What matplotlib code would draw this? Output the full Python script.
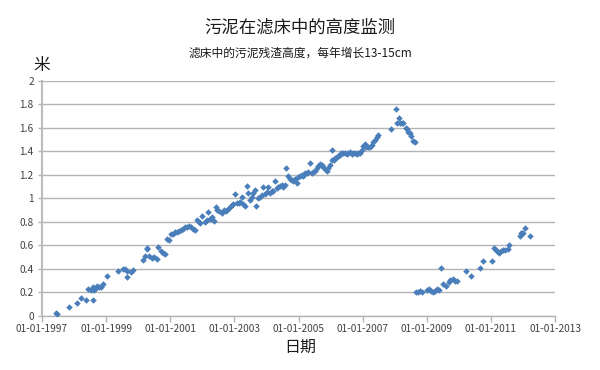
import matplotlib
matplotlib.use("Agg")
import matplotlib.pyplot as plt

plt.rcParams['font.family'] = ['Noto Sans CJK SC', 'DejaVu Sans']

# 日期（小数年）和污泥高度（米）
years = [
    1997.44, 1997.48, 1997.83, 1998.08, 1998.21, 1998.37, 1998.44, 1998.52, 1998.58, 1998.60,
    1998.60, 1998.63, 1998.67, 1998.72, 1998.79, 1998.84, 1998.91, 1999.04, 1999.38, 1999.54,
    1999.60, 1999.64, 1999.66, 1999.78, 1999.85, 2000.14, 2000.21, 2000.26, 2000.28, 2000.35,
    2000.42, 2000.49, 2000.58, 2000.63, 2000.70, 2000.76, 2000.84, 2000.91, 2000.95, 2001.01,
    2001.08, 2001.14, 2001.20, 2001.28, 2001.34, 2001.41, 2001.47, 2001.53, 2001.59, 2001.66,
    2001.72, 2001.77, 2001.82, 2001.89, 2001.93, 2001.99, 2002.08, 2002.14, 2002.19, 2002.24,
    2002.29, 2002.36, 2002.43, 2002.47, 2002.53, 2002.60, 2002.68, 2002.74, 2002.81, 2002.87,
    2002.92, 2002.97, 2003.02, 2003.07, 2003.13, 2003.17, 2003.23, 2003.28, 2003.33, 2003.38,
    2003.43, 2003.49, 2003.54, 2003.59, 2003.64, 2003.69, 2003.75, 2003.80, 2003.85, 2003.90,
    2003.95, 2004.01, 2004.06, 2004.11, 2004.16, 2004.21, 2004.27, 2004.32, 2004.37, 2004.42,
    2004.47, 2004.52, 2004.58, 2004.61, 2004.68, 2004.73, 2004.79, 2004.84, 2004.89, 2004.94,
    2004.99, 2005.04, 2005.10, 2005.15, 2005.20, 2005.25, 2005.30, 2005.36, 2005.41, 2005.46,
    2005.51, 2005.57, 2005.62, 2005.67, 2005.72, 2005.77, 2005.82, 2005.88, 2005.93, 2005.98,
    2006.03, 2006.06, 2006.10, 2006.14, 2006.19, 2006.24, 2006.29, 2006.34, 2006.40, 2006.45,
    2006.50, 2006.55, 2006.60, 2006.66, 2006.71, 2006.76, 2006.81, 2006.86, 2006.92, 2006.97,
    2007.02, 2007.07, 2007.12, 2007.17, 2007.23, 2007.28, 2007.33, 2007.38, 2007.44, 2007.49,
    2007.90, 2008.04, 2008.08, 2008.12, 2008.16, 2008.22, 2008.27, 2008.35, 2008.39, 2008.43,
    2008.48, 2008.52, 2008.58, 2008.63,
    2008.68, 2008.73, 2008.79, 2008.84, 2009.01, 2009.08, 2009.14, 2009.20, 2009.26, 2009.31,
    2009.37, 2009.45, 2009.50, 2009.60, 2009.68, 2009.74, 2009.81, 2009.87, 2009.93, 2010.22,
    2010.38, 2010.65, 2010.76, 2011.05, 2011.09, 2011.16, 2011.20, 2011.25, 2011.33, 2011.38,
    2011.44, 2011.52, 2011.55, 2011.90, 2011.93, 2011.97, 2012.01, 2012.05, 2012.23,
]
heights = [
    0.020, 0.017, 0.070, 0.110, 0.148, 0.136, 0.228, 0.219, 0.230, 0.247,
    0.136, 0.219, 0.236, 0.256, 0.247, 0.247, 0.270, 0.340, 0.378, 0.398,
    0.398, 0.330, 0.383, 0.375, 0.387, 0.470, 0.509, 0.570, 0.580, 0.509,
    0.490, 0.500, 0.480, 0.588, 0.551, 0.537, 0.526, 0.654, 0.645, 0.700,
    0.700, 0.713, 0.713, 0.724, 0.730, 0.741, 0.753, 0.758, 0.764, 0.753,
    0.736, 0.730, 0.815, 0.798, 0.787, 0.850, 0.798, 0.815, 0.880, 0.820,
    0.844, 0.810, 0.930, 0.900, 0.895, 0.878, 0.900, 0.890, 0.912, 0.930,
    0.940, 0.952, 1.037, 0.958, 0.963, 0.971, 1.009, 0.952, 0.935, 1.105,
    1.043, 0.986, 1.009, 1.043, 1.071, 0.935, 1.000, 1.014, 1.029, 1.099,
    1.037, 1.057, 1.094, 1.048, 1.065, 1.065, 1.150, 1.086, 1.094, 1.105,
    1.114, 1.099, 1.114, 1.256, 1.190, 1.162, 1.156, 1.150, 1.162, 1.133,
    1.179, 1.190, 1.199, 1.190, 1.213, 1.219, 1.227, 1.304, 1.219, 1.227,
    1.236, 1.256, 1.276, 1.293, 1.284, 1.270, 1.248, 1.236, 1.256, 1.284,
    1.327, 1.412, 1.327, 1.341, 1.355, 1.361, 1.369, 1.384, 1.389, 1.384,
    1.378, 1.389, 1.398, 1.378, 1.384, 1.389, 1.378, 1.384, 1.389, 1.412,
    1.446, 1.463, 1.440, 1.435, 1.440, 1.455, 1.483, 1.497, 1.520, 1.540,
    1.591, 1.761, 1.640, 1.682, 1.640, 1.645, 1.640, 1.597, 1.588, 1.568,
    1.554, 1.531, 1.491, 1.478,
    0.199, 0.205, 0.210, 0.205, 0.219, 0.225, 0.210, 0.205, 0.213, 0.225,
    0.219, 0.409, 0.268, 0.256, 0.290, 0.304, 0.310, 0.298, 0.298, 0.381,
    0.341, 0.404, 0.466, 0.466, 0.574, 0.560, 0.554, 0.531, 0.554, 0.560,
    0.560, 0.566, 0.600, 0.679, 0.702, 0.707, 0.702, 0.745, 0.679,
]

tick_years = [1997, 1999, 2001, 2003, 2005, 2007, 2009, 2011, 2013]
tick_labels = ['01-01-%d' % y for y in tick_years]
y_ticks = [0, 0.2, 0.4, 0.6, 0.8, 1, 1.2, 1.4, 1.6, 1.8, 2]
y_labels = ['0', '0.2', '0.4', '0.6', '0.8', '1', '1.2', '1.4', '1.6', '1.8', '2']

fig = plt.figure(figsize=(6, 3.7), dpi=100)
ax = fig.add_axes([0.07, 0.147, 0.855, 0.634])

ax.scatter(years, heights, marker='D', s=11, color='#4a7ebb', linewidths=0, zorder=3)

ax.set_xlim(1997, 2013)
ax.set_ylim(0, 2)
ax.set_xticks(tick_years)
ax.set_xticklabels(tick_labels)
ax.set_yticks(y_ticks)
ax.set_yticklabels(y_labels)

grid_c = '#b4b4b4'
ax.yaxis.grid(True, color=grid_c, linewidth=1)
ax.set_axisbelow(True)
for s in ['top', 'right']:
    ax.spines[s].set_visible(False)
ax.spines['left'].set_color('#bcbcbc')
ax.spines['left'].set_linewidth(1.5)
ax.spines['bottom'].set_color(grid_c)
ax.spines['bottom'].set_linewidth(1)
ax.tick_params(axis='x', colors=grid_c, length=4, width=1, labelsize=7.3, labelcolor='#404040', pad=2)
ax.tick_params(axis='y', colors=grid_c, length=3, width=1, labelsize=7.3, labelcolor='#404040', pad=3)

fig.text(0.5, 0.925, '污泥在滤床中的高度监测', ha='center', va='center', fontsize=12.5, color='#1a1a1a')
fig.text(0.5, 0.857, '滤床中的污泥残渣高度，每年增长13-15cm', ha='center', va='center', fontsize=8.5, color='#1a1a1a')
fig.text(0.07, 0.822, '米', ha='center', va='center', fontsize=12, color='#1a1a1a')
fig.text(0.5, 0.06, '日期', ha='center', va='center', fontsize=11.5, color='#1a1a1a')

fig.savefig('out.png', dpi=100)
